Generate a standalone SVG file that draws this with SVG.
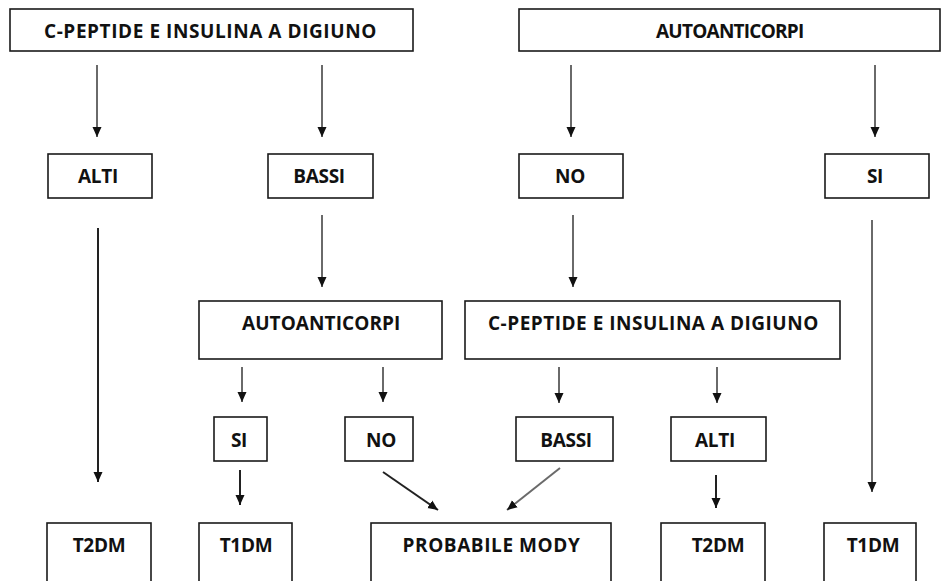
<svg xmlns="http://www.w3.org/2000/svg" width="942" height="581" viewBox="0 0 942 581">
<defs>
<style>
.box{fill:#fff;stroke:#1a1a1a;stroke-width:1.6}
.t{font-family:"Open Sans","Liberation Sans",sans-serif;font-weight:bold;font-size:19px;fill:#111;text-anchor:middle;letter-spacing:-0.3px}
.c{stroke:#6a6a6a;stroke-width:2;fill:none;marker-end:url(#ah)}
.d{stroke:#222;stroke-width:2;fill:none;marker-end:url(#ah)}
</style>
<marker id="ah" markerUnits="userSpaceOnUse" markerWidth="10" markerHeight="10" refX="10" refY="5" orient="auto">
<path d="M0,0.5 L10,5 L0,9.5 z" fill="#111"/>
</marker>
</defs>
<rect width="942" height="581" fill="#fff"/>

<g id="n-cpep-top"><rect class="box" x="10" y="9" width="403" height="42"/><text class="t" x="210" y="38" textLength="332">C-PEPTIDE E INSULINA A DIGIUNO</text></g>
<g id="n-auto-top"><rect class="box" x="519" y="9" width="421" height="42"/><text class="t" x="730" y="38" textLength="148">AUTOANTICORPI</text></g>

<g id="n-alti-top"><rect class="box" x="48" y="154" width="104" height="44"/><text class="t" x="98" y="183">ALTI</text></g>
<g id="n-bassi-top"><rect class="box" x="268" y="154" width="105" height="44"/><text class="t" x="319" y="183">BASSI</text></g>
<g id="n-no-top"><rect class="box" x="519" y="154" width="104" height="44"/><text class="t" x="570" y="183">NO</text></g>
<g id="n-si-top"><rect class="box" x="825" y="154" width="104" height="44"/><text class="t" x="875" y="183">SI</text></g>

<g id="n-auto-mid"><rect class="box" x="199" y="301" width="243" height="58"/><text class="t" x="321" y="330" textLength="158">AUTOANTICORPI</text></g>
<g id="n-cpep-mid"><rect class="box" x="465" y="301" width="375" height="58"/><text class="t" x="653" y="330" textLength="330">C-PEPTIDE E INSULINA A DIGIUNO</text></g>

<g id="n-si-mid"><rect class="box" x="214" y="417" width="53" height="44"/><text class="t" x="239" y="447">SI</text></g>
<g id="n-no-mid"><rect class="box" x="345" y="417" width="68" height="44"/><text class="t" x="381" y="447">NO</text></g>
<g id="n-bassi-mid"><rect class="box" x="516" y="417" width="97" height="44"/><text class="t" x="566" y="447">BASSI</text></g>
<g id="n-alti-mid"><rect class="box" x="671" y="417" width="95" height="44"/><text class="t" x="715" y="447">ALTI</text></g>

<g id="n-t2dm-left"><rect class="box" x="47" y="523" width="104" height="62"/><text class="t" x="99" y="552">T2DM</text></g>
<g id="n-t1dm-left"><rect class="box" x="199" y="523" width="93" height="62"/><text class="t" x="246" y="552">T1DM</text></g>
<g id="n-mody"><rect class="box" x="371" y="523" width="240" height="62"/><text class="t" x="491" y="552" textLength="177">PROBABILE MODY</text></g>
<g id="n-t2dm-right"><rect class="box" x="661" y="523" width="104" height="62"/><text class="t" x="718" y="552">T2DM</text></g>
<g id="n-t1dm-right"><rect class="box" x="824" y="523" width="92" height="62"/><text class="t" x="873" y="552">T1DM</text></g>

<g id="connectors">
<line class="c" x1="97" y1="65" x2="97" y2="137"/>
<line class="c" x1="322" y1="65" x2="322" y2="137"/>
<line class="c" x1="571" y1="65" x2="571" y2="137"/>
<line class="c" x1="875" y1="65" x2="875" y2="137"/>
<line class="d" x1="98" y1="228" x2="98" y2="482"/>
<line class="c" x1="322" y1="215" x2="322" y2="287"/>
<line class="c" x1="573" y1="215" x2="573" y2="287"/>
<line class="c" x1="872" y1="220" x2="872" y2="492"/>
<line class="c" x1="242" y1="367" x2="242" y2="402"/>
<line class="c" x1="383" y1="367" x2="383" y2="402"/>
<line class="c" x1="559" y1="367" x2="559" y2="403"/>
<line class="c" x1="717" y1="367" x2="717" y2="403"/>
<line class="d" x1="240" y1="470" x2="240" y2="505"/>
<line class="d" x1="383" y1="472" x2="438" y2="510"/>
<line class="c" x1="560" y1="468" x2="507" y2="510"/>
<line class="d" x1="716" y1="475" x2="716" y2="508"/>
</g>
</svg>
